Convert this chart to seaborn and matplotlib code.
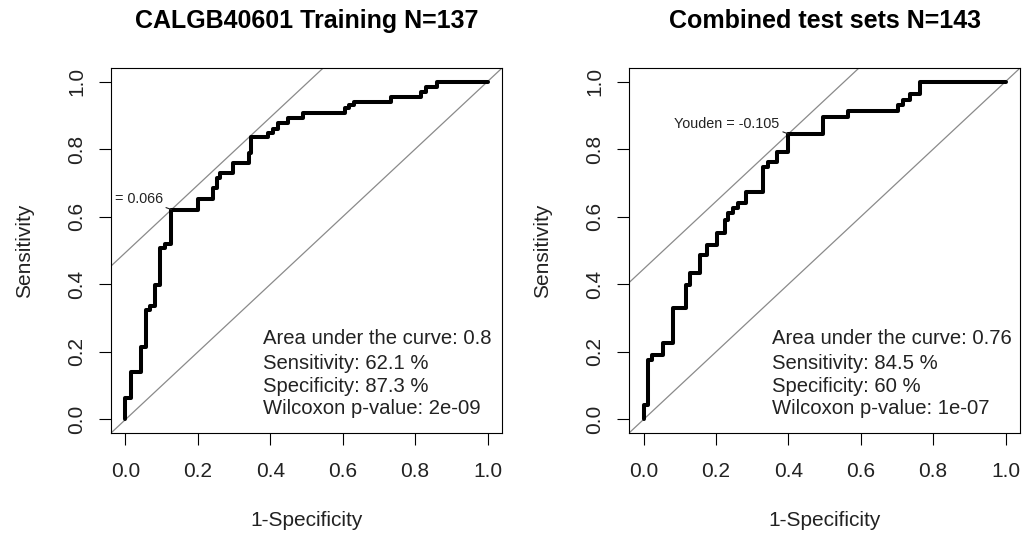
import numpy as np
import pandas as pd
import matplotlib
matplotlib.use("Agg")
import matplotlib.pyplot as plt
import seaborn as sns

# ---------------- data ----------------
titles = ["CALGB40601 Training N=137", "Combined test sets N=143"]

train_fpr = [0.0, 0.0, 0.014, 0.044, 0.058, 0.067, 0.081, 0.095, 0.109, 0.126,
             0.199, 0.242, 0.252, 0.261, 0.298, 0.341, 0.348, 0.393, 0.408, 0.422,
             0.450, 0.491, 0.607, 0.618, 0.630, 0.733, 0.817, 0.830, 0.860, 1.0]
train_tpr = [0.0, 0.063, 0.141, 0.215, 0.324, 0.336, 0.398, 0.506, 0.519, 0.621,
             0.651, 0.684, 0.714, 0.728, 0.758, 0.788, 0.837, 0.849, 0.861, 0.876,
             0.891, 0.908, 0.921, 0.930, 0.940, 0.955, 0.970, 0.985, 1.0, 1.0]

test_fpr = [0.0, 0.0, 0.011, 0.023, 0.055, 0.082, 0.117, 0.128, 0.156, 0.175,
            0.202, 0.225, 0.234, 0.248, 0.262, 0.283, 0.331, 0.345, 0.368, 0.400,
            0.495, 0.566, 0.702, 0.718, 0.736, 0.764, 1.0]
test_tpr = [0.0, 0.043, 0.176, 0.191, 0.225, 0.329, 0.398, 0.433, 0.487, 0.516,
            0.553, 0.590, 0.610, 0.625, 0.640, 0.674, 0.748, 0.763, 0.792, 0.845,
            0.896, 0.914, 0.930, 0.945, 0.962, 1.0, 1.0]

sensitivity = [0.621, 0.845]
specificity = [0.873, 0.600]
# the left label is cut by the plot border in the reference; only its visible part is kept
youden_labels = ["= 0.066", "Youden = -0.105"]

train_stats = ["Area under the curve: 0.8", "Sensitivity: 62.1 %",
               "Specificity: 87.3 %", "Wilcoxon p-value: 2e-09"]
test_stats = ["Area under the curve: 0.76", "Sensitivity: 84.5 %",
              "Specificity: 60 %", "Wilcoxon p-value: 1e-07"]

tick_values = [0.0, 0.2, 0.4, 0.6, 0.8, 1.0]
tick_labels = ["0.0", "0.2", "0.4", "0.6", "0.8", "1.0"]
x_label = "1-Specificity"
y_label = "Sensitivity"

# ---------------- style ----------------
sns.set_theme(style="ticks")
plt.rcParams['font.family'] = ['Liberation Sans', 'DejaVu Sans']

fig = plt.figure(figsize=(10.25, 5.33), dpi=100)
positions = [[0.1083, 0.1876, 0.3815, 0.6848], [0.6137, 0.1876, 0.3815, 0.6848]]
stats_x = [0.381, 0.354]
stats_y = [0.2225, 0.149, 0.082, 0.016]

curves = [(train_fpr, train_tpr, train_stats), (test_fpr, test_tpr, test_stats)]

for i, (fpr, tpr, stats) in enumerate(curves):
    ax = fig.add_axes(positions[i])
    df = pd.DataFrame({"fpr": fpr, "tpr": tpr})
    # reference diagonals
    ax.axline((0, 0), slope=1, color="#8a8a8a", lw=0.9, zorder=1)
    ax.axline((0, sensitivity[i] + specificity[i] - 1), slope=1,
              color="#8a8a8a", lw=0.9, zorder=1)
    sns.lineplot(data=df, x="fpr", y="tpr", estimator=None, sort=False,
                 drawstyle="steps-post", color="black", lw=2.9, ax=ax, zorder=3)

    ax.set_xlim(-0.04, 1.04)
    ax.set_ylim(-0.04, 1.04)
    ax.set_xticks(tick_values)
    ax.set_xticklabels(tick_labels)
    ax.set_yticks(tick_values)
    ax.set_yticklabels(tick_labels, rotation=90, va="center")
    ax.tick_params(axis="both", direction="out", length=8.4, width=0.8,
                   color="black", labelsize=15, labelcolor="#222222")
    ax.tick_params(axis="x", pad=12.5)
    ax.tick_params(axis="y", pad=9.5)
    for sp in ax.spines.values():
        sp.set_visible(True)
        sp.set_color("black")
        sp.set_linewidth(0.8)

    ax.set_xlabel(x_label, fontsize=15, color="#222222", labelpad=21.5)
    ax.set_ylabel(y_label, fontsize=15, color="#222222", labelpad=24)
    ax.set_title(titles[i], fontsize=18, fontweight="bold", pad=28.6, color="black")

    for j, line in enumerate(stats):
        ax.text(stats_x[i], stats_y[j], line, fontsize=14.6, color="#222222",
                ha="left", va="baseline")

    ax.annotate(youden_labels[i], xy=(1 - specificity[i], sensitivity[i]),
                xytext=(-6.3, 4.5), textcoords="offset points",
                ha="right", va="baseline", fontsize=10.4, color="#222222",
                clip_on=True,
                arrowprops=dict(arrowstyle="-", lw=0.8, color="#222222",
                                shrinkA=0, shrinkB=0, relpos=(1, 0)))

fig.savefig("out.png", dpi=100, facecolor="white")
